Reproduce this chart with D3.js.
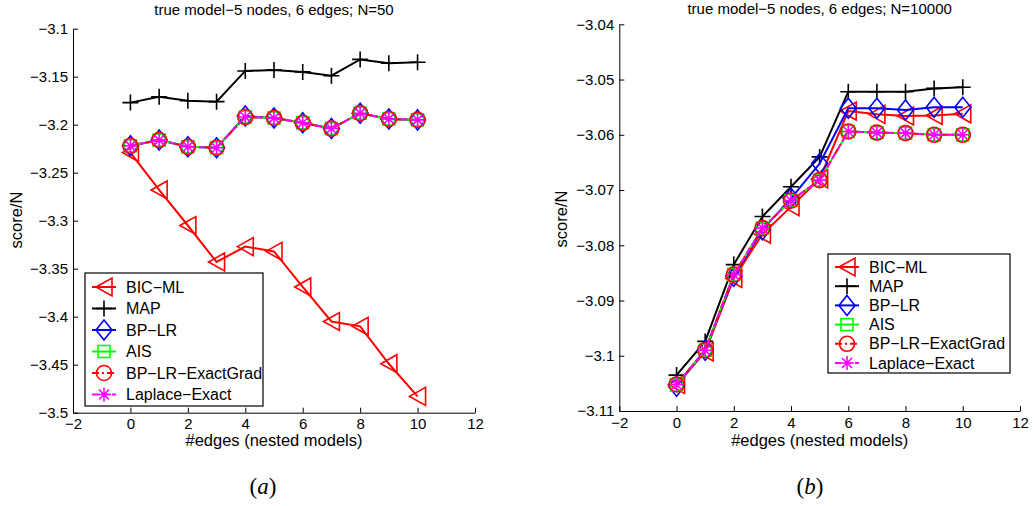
<!DOCTYPE html>
<html lang="en">
<head>
<meta charset="UTF-8">
<title>score/N vs #edges</title>
<script src="https://d3js.org/d3.v7.min.js"></script>
<style>
  body { margin: 0; background: #fff; }
  text { font-family: "Liberation Sans", Arial, sans-serif; fill: #000; }
  .axis path, .axis line { stroke: #000; stroke-width: 1; }
  .axis text { font-size: 15px; }
  .title { font-size: 15px; text-anchor: middle; }
  .lbl { font-size: 16.5px; text-anchor: middle; }
  .legend-text { font-size: 16px; }
  .cap { font-family: "Liberation Serif", "DejaVu Serif", serif; font-size: 23px; text-anchor: middle; }
</style>
</head>
<body>
<div id="chart"></div>
<script>
// ---- data ----
const edges = [0, 1, 2, 3, 4, 5, 6, 7, 8, 9, 10];
const xTicks = [-2, 0, 2, 4, 6, 8, 10, 12];
const seriesNames = ["BIC\u2212ML", "MAP", "BP\u2212LR", "AIS", "BP\u2212LR\u2212ExactGrad", "Laplace\u2212Exact"];

// panel (a): N=50
const yTicksA = [-3.5, -3.45, -3.4, -3.35, -3.3, -3.25, -3.2, -3.15, -3.1];
const bicA     = [-3.229, -3.268, -3.305, -3.343, -3.327, -3.332, -3.369, -3.405, -3.410, -3.449, -3.483];
const mapA     = [-3.177, -3.171, -3.175, -3.176, -3.144, -3.143, -3.145, -3.149, -3.132, -3.136, -3.135];
const bplrA    = [-3.222, -3.216, -3.223, -3.224, -3.191, -3.193, -3.198, -3.204, -3.188, -3.194, -3.195];
const aisA     = [-3.222, -3.216, -3.223, -3.224, -3.192, -3.193, -3.198, -3.204, -3.188, -3.194, -3.195];
const exactA   = [-3.222, -3.216, -3.223, -3.224, -3.192, -3.193, -3.198, -3.204, -3.188, -3.194, -3.195];
const laplaceA = [-3.222, -3.216, -3.223, -3.224, -3.192, -3.193, -3.198, -3.204, -3.188, -3.194, -3.195];

// panel (b): N=10000
const yTicksB = [-3.11, -3.1, -3.09, -3.08, -3.07, -3.06, -3.05, -3.04];
const bicB     = [-3.1052, -3.0993, -3.0860, -3.0780, -3.0730, -3.0680, -3.0557, -3.0563, -3.0566, -3.0565, -3.0562];
const mapB     = [-3.1035, -3.0974, -3.0835, -3.0748, -3.0694, -3.0640, -3.0522, -3.0522, -3.0522, -3.0516, -3.0514];
const bplrB    = [-3.1055, -3.0990, -3.0856, -3.0772, -3.0715, -3.0652, -3.0552, -3.0552, -3.0555, -3.0550, -3.0550];
const aisB     = [-3.1053, -3.0990, -3.0853, -3.0769, -3.0719, -3.0682, -3.0594, -3.0596, -3.0597, -3.0600, -3.0600];
const exactB   = [-3.1052, -3.0990, -3.0853, -3.0769, -3.0719, -3.0682, -3.0594, -3.0596, -3.0597, -3.0600, -3.0600];
const laplaceB = [-3.1052, -3.0990, -3.0853, -3.0769, -3.0719, -3.0682, -3.0594, -3.0596, -3.0597, -3.0600, -3.0600];

const width = 1036, height = 506;

const svg = d3.select("#chart").append("svg")
  .attr("width", width).attr("height", height);

// line/marker styles, same order as seriesNames
const styles = [
  { color: "#ff0000", dash: null,        marker: "tri" },
  { color: "#000000", dash: null,        marker: "plus" },
  { color: "#0000ff", dash: null,        marker: "diamond" },
  { color: "#00ff00", dash: null,        marker: "square" },
  { color: "#ff0000", dash: "7,3,2,3",   marker: "circle" },
  { color: "#ff00ff", dash: "6,4",       marker: "star" }
];

function drawMarker(g, type, cx, cy, color) {
  const m = g.append("g").attr("transform", `translate(${cx},${cy})`)
    .attr("fill", "none").attr("stroke", color).attr("stroke-width", 1.6);
  if (type === "tri") {
    m.append("path").attr("d", "M-8,0 L8,-9 L8,9 Z");
  } else if (type === "plus") {
    m.append("path").attr("d", "M-8,0 H8 M0,-8 V8");
  } else if (type === "diamond") {
    m.append("path").attr("d", "M0,-10 L8,0 L0,10 L-8,0 Z");
  } else if (type === "square") {
    m.append("rect").attr("x", -6).attr("y", -6).attr("width", 12).attr("height", 12);
  } else if (type === "circle") {
    m.append("circle").attr("r", 7.5);
  } else if (type === "star") {
    m.append("path").attr("d", "M-7,0 H7 M0,-7 V7 M-5,-5 L5,5 M-5,5 L5,-5");
  }
}

function drawPanel(cfg) {
  const x = d3.scaleLinear().domain([-2, 12]).range(cfg.xr);
  const y = d3.scaleLinear().domain(cfg.yd).range(cfg.yr);
  const g = svg.append("g");

  // axes (MATLAB style: ticks inward, box off)
  g.append("g").attr("class", "axis")
    .attr("transform", `translate(0,${cfg.yr[0]})`)
    .call(d3.axisBottom(x).tickValues(xTicks).tickSizeInner(-5).tickSizeOuter(0).tickPadding(6).tickFormat(d3.format("~g")));
  g.append("g").attr("class", "axis")
    .attr("transform", `translate(${cfg.xr[0]},0)`)
    .call(d3.axisLeft(y).tickValues(cfg.yTicks).tickSizeInner(-5).tickSizeOuter(0).tickPadding(5).tickFormat(d3.format("~g")));
  g.selectAll(".axis").attr("font-family", null).attr("font-size", null);

  // series
  const line = d3.line().x((d, i) => x(edges[i])).y(d => y(d));
  cfg.series.forEach((vals, k) => {
    const st = styles[k];
    g.append("path").datum(vals)
      .attr("d", line)
      .attr("fill", "none")
      .attr("stroke", st.color)
      .attr("stroke-width", 2)
      .attr("stroke-dasharray", st.dash);
    vals.forEach((v, i) => drawMarker(g, st.marker, x(edges[i]), y(v), st.color));
  });

  // title & labels
  g.append("text").attr("class", "title")
    .attr("x", (cfg.xr[0] + cfg.xr[1]) / 2).attr("y", cfg.titleY).text(cfg.title);
  g.append("text").attr("class", "lbl")
    .attr("x", (cfg.xr[0] + cfg.xr[1]) / 2).attr("y", 446).text("#edges (nested models)");
  g.append("text").attr("class", "lbl")
    .attr("transform", `translate(${cfg.ylabX},${cfg.ylabY}) rotate(-90)`).text("score/N");

  // legend
  const L = cfg.legend;
  g.append("rect").attr("x", L.x).attr("y", L.y).attr("width", L.w).attr("height", L.h)
    .attr("fill", "#fff").attr("stroke", "#000").attr("stroke-width", 1.2);
  seriesNames.forEach((name, k) => {
    const st = styles[k];
    const ly = L.y + L.first + k * L.step;
    g.append("line")
      .attr("x1", L.x + 7).attr("x2", L.x + 31).attr("y1", ly).attr("y2", ly)
      .attr("stroke", st.color).attr("stroke-width", 2).attr("stroke-dasharray", st.dash);
    drawMarker(g, st.marker, L.x + 19, ly, st.color);
    g.append("text").attr("class", "legend-text")
      .attr("x", L.x + 41).attr("y", ly).attr("dy", "0.35em").text(name);
  });

  // caption
  const cap = g.append("text").attr("class", "cap").attr("x", cfg.capX).attr("y", 494);
  cap.append("tspan").text("(");
  cap.append("tspan").attr("font-style", "italic").text(cfg.cap);
  cap.append("tspan").text(")");
}

drawPanel({
  xr: [73, 475], yd: [-3.5, -3.1], yr: [412.7, 28.7], yTicks: yTicksA,
  series: [bicA, mapA, bplrA, aisA, exactA, laplaceA],
  title: "true model\u22125 nodes, 6 edges; N=50", titleY: 15,
  ylabX: 22, ylabY: 220,
  legend: { x: 85, y: 273, w: 178, h: 133, first: 14, step: 21.5 },
  capX: 263, cap: "a"
});

drawPanel({
  xr: [619.3, 1020], yd: [-3.11, -3.04], yr: [411, 24.3], yTicks: yTicksB,
  series: [bicB, mapB, bplrB, aisB, exactB, laplaceB],
  title: "true model\u22125 nodes, 6 edges; N=10000", titleY: 14,
  ylabX: 567, ylabY: 219,
  legend: { x: 828, y: 254, w: 182, h: 119, first: 13, step: 19.2 },
  capX: 810, cap: "b"
});
</script>
</body>
</html>
